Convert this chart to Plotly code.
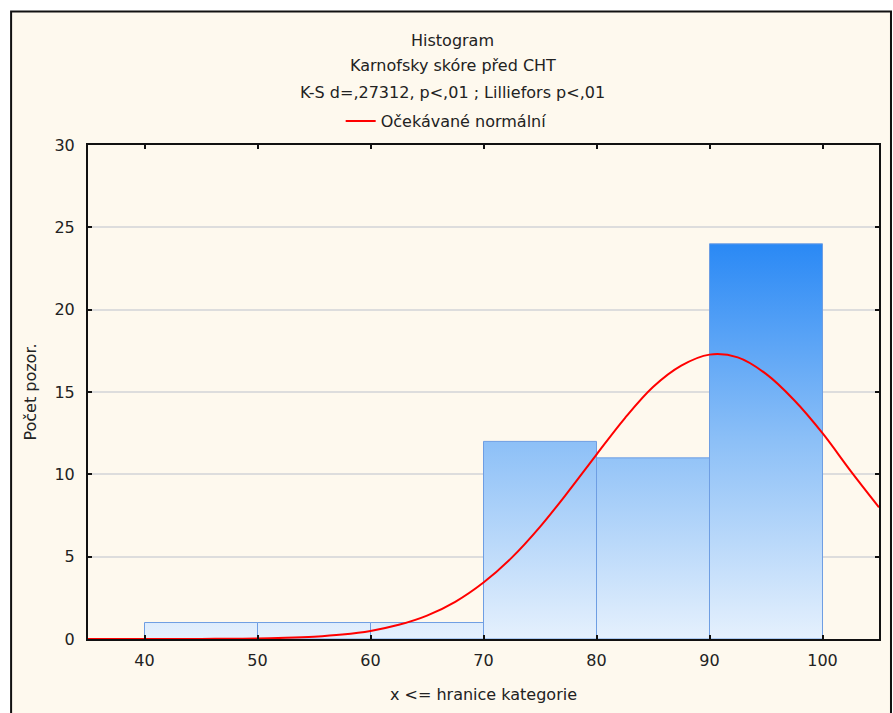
import plotly.graph_objects as go

# Histogram data
bin_left = [40, 50, 60, 70, 80, 90]
bin_right = [50, 60, 70, 80, 90, 100]
counts = [1, 1, 1, 12, 11, 24]

# Expected normal curve
curve_x = [35, 37.5, 40, 42.5, 45, 47.5, 50, 52.5, 55, 57.5, 60, 62.5, 65, 67.5, 70,
           72.5, 75, 77.5, 80, 82.5, 85, 87.5, 90, 92.5, 95, 97.5, 100, 102.5, 105]
curve_y = [0.0, 0.0, 0.001, 0.003, 0.006, 0.015, 0.033, 0.07, 0.14, 0.27, 0.49, 0.86, 1.42, 2.26, 3.43,
           4.94, 6.81, 8.95, 11.2, 13.4, 15.3, 16.6, 17.27, 17.1, 16.1, 14.5, 12.5, 10.2, 8.0]

x_ticks = [40, 50, 60, 70, 80, 90, 100]
y_ticks = [0, 5, 10, 15, 20, 25, 30]

title_lines = ["Histogram", "Karnofsky skóre před CHT", "K-S d=,27312, p<,01 ; Lilliefors p<,01"]

FONT = "DejaVu Sans, Verdana, sans-serif"
TXT = "#222222"

fig = go.Figure()

for i, (l, r, c) in enumerate(zip(bin_left, bin_right, counts)):
    fig.add_trace(go.Scatter(
        x=[l, l, r, r, l], y=[0, c, c, 0, 0],
        mode="lines", fill="toself",
        line=dict(color="#6E9EE3", width=1),
        fillgradient=dict(type="vertical", start=0, stop=24,
                          colorscale=[[0, "#E6F1FD"], [0.5, "#8DC0F7"], [1, "#2A89F5"]]),
        showlegend=False, hoverinfo="skip",
    ))

fig.add_trace(go.Scatter(
    x=curve_x, y=curve_y, mode="lines", line=dict(color="#FF0000", width=2, shape="spline"),
    name="Očekávané normální", showlegend=True,
))

L, R, T, B = 88, 13, 145, 72
W, H = 893, 713
pw = W - L - R
ph = H - T - B

def px_x(p):
    return (p - L) / pw

def px_y(p):
    return (H - B - p) / ph

fig.add_shape(type="rect", xref="paper", yref="paper",
              x0=px_x(11), x1=px_x(892), y0=px_y(740), y1=px_y(11),
              fillcolor="#FEF9EE", line=dict(color="#111111", width=2), layer="below")

for txt, yp in zip(title_lines, [40, 65, 92]):
    fig.add_annotation(text=txt, xref="paper", yref="paper", x=px_x(453), y=px_y(yp),
                       showarrow=False, xanchor="center", yanchor="middle",
                       font=dict(family=FONT, size=16, color=TXT))

fig.update_layout(
    width=W, height=H,
    margin=dict(l=L, r=R, t=T, b=B),
    paper_bgcolor="white", plot_bgcolor="white",
    font=dict(family=FONT, size=16, color=TXT),
    legend=dict(x=px_x(341), y=px_y(121), xanchor="left", yanchor="middle",
                bgcolor="rgba(0,0,0,0)", font=dict(size=16), orientation="h"),
    xaxis=dict(range=[35, 105], tickvals=x_ticks, showgrid=False, zeroline=False,
               showline=True, linecolor="#111111", linewidth=2, mirror="allticks",
               ticks="inside", ticklen=4, tickcolor="#111111", tickwidth=2,
               tickfont=dict(size=16), ticklabelstandoff=6,
               title=dict(text="x <= hranice kategorie", standoff=20, font=dict(size=16))),
    yaxis=dict(range=[0, 30], tickvals=y_ticks, showgrid=True, gridcolor="#DDDDDD", gridwidth=1.5,
               zeroline=False, showline=True, linecolor="#111111", linewidth=2, mirror="allticks",
               ticks="inside", ticklen=4, tickcolor="#111111", tickwidth=2,
               tickfont=dict(size=16), ticklabelstandoff=8,
               title=dict(text="Počet pozor.", standoff=14, font=dict(size=16))),
)

fig.write_html("out.html")
